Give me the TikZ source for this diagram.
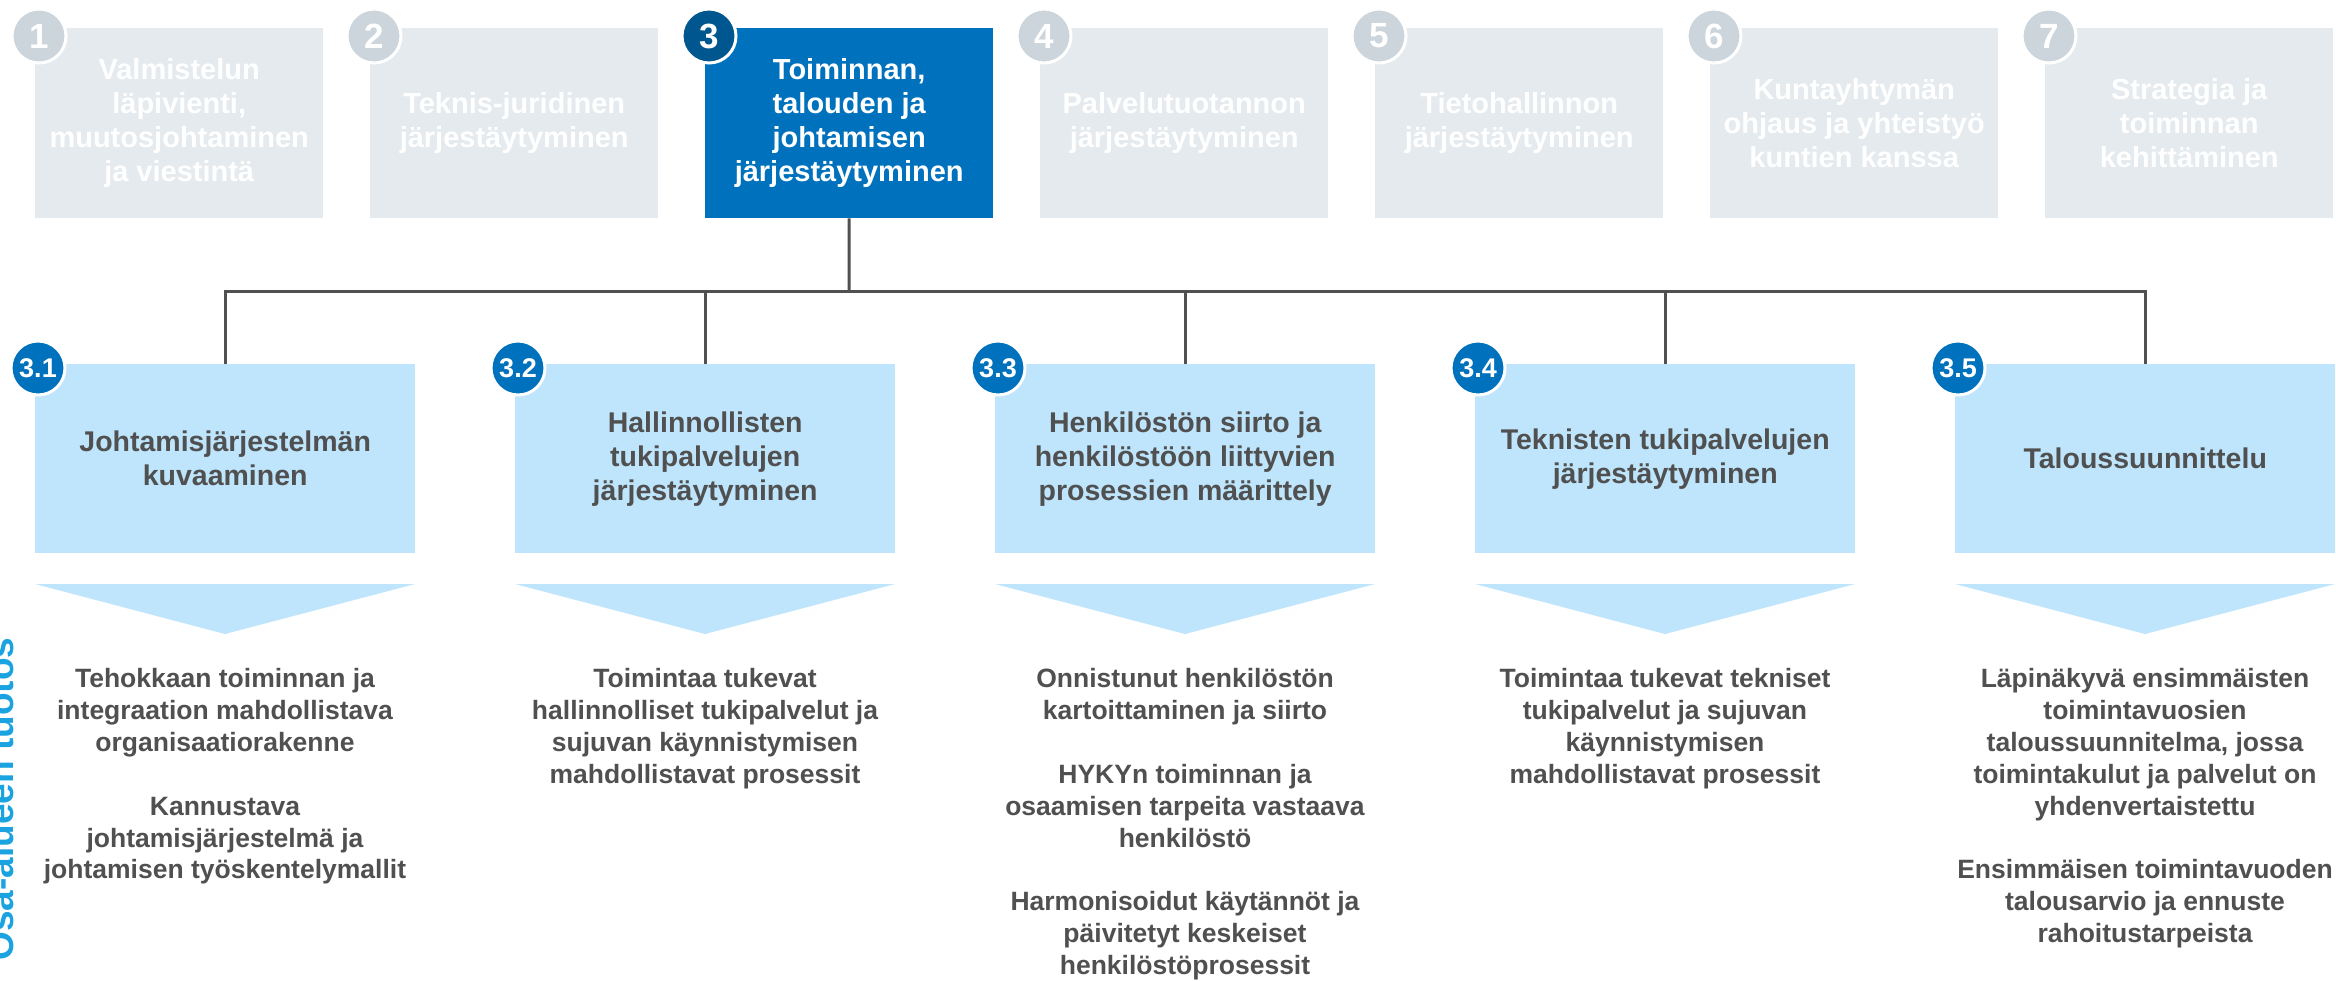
\documentclass[tikz,border=0pt]{standalone}
\usepackage{fontspec}
\setmainfont{Liberation Sans}
\definecolor{graybox}{HTML}{E4EAED}
\definecolor{graycirc}{HTML}{CCD5DB}
\definecolor{bluebox}{HTML}{0071BC}
\definecolor{bluedark}{HTML}{00568E}
\definecolor{bluecirc}{HTML}{0071BC}
\definecolor{lightblue}{HTML}{BEE5FC}
\definecolor{txtgray}{HTML}{505050}
\definecolor{linegray}{HTML}{505050}
\definecolor{accent}{HTML}{1AA3E0}
\begin{document}
\begin{tikzpicture}[x=1pt,y=-1pt,
  topbox/.style={fill=graybox, anchor=north west, minimum width=288pt, minimum height=190pt, inner sep=0pt,
    text=white, font=\fontsize{29}{34}\selectfont\bfseries, align=center},
  activebox/.style={topbox, fill=bluebox},
  numcirc/.style={circle, fill=graycirc, draw=white, line width=3pt, minimum size=54pt, inner sep=0pt,
    text=white, font=\fontsize{35}{40}\selectfont\bfseries},
  activecirc/.style={numcirc, fill=bluedark},
  subbox/.style={fill=lightblue, anchor=north west, minimum width=380pt, minimum height=189pt, inner sep=0pt,
    text=txtgray, font=\fontsize{28.5}{34}\selectfont\bfseries, align=center},
  subcirc/.style={circle, fill=bluecirc, draw=white, line width=3pt, minimum size=54pt, inner sep=0pt,
    text=white, font=\fontsize{27}{30}\selectfont\bfseries},
  outtext/.style={anchor=north, inner sep=0pt, text=txtgray, font=\fontsize{26.5}{31.9}\selectfont\bfseries, align=center},
  conn/.style={draw=linegray, line width=3pt},
  tri/.style={fill=lightblue}
]
\useasboundingbox (0,0) rectangle (2336,980);
\fill[white] (0,0) rectangle (2336,980);

% top row
\node[topbox] (b1) at (35,28) {Valmistelun\\läpivienti,\\muutosjohtaminen\\ja viestintä};
\node[topbox] (b2) at (370,28) {Teknis-juridinen\\järjestäytyminen};
\node[activebox] (b3) at (705,28) {Toiminnan,\\talouden ja\\johtamisen\\järjestäytyminen};
\node[topbox] (b4) at (1040,28) {Palvelutuotannon\\järjestäytyminen};
\node[topbox] (b5) at (1375,28) {Tietohallinnon\\järjestäytyminen};
\node[topbox] (b6) at (1710,28) {Kuntayhtymän\\ohjaus ja yhteistyö\\kuntien kanssa};
\node[topbox] (b7) at (2045,28) {Strategia ja\\toiminnan\\kehittäminen};

\node[numcirc] (c1) at (39,36) {1};
\node[numcirc] (c2) at (374,36) {2};
\node[activecirc] (c3) at (709,36) {3};
\node[numcirc] (c4) at (1044,36) {4};
\node[numcirc] (c5) at (1379,36) {5};
\node[numcirc] (c6) at (1714,36) {6};
\node[numcirc] (c7) at (2049,36) {7};

% sub boxes
\node[subbox] (s1) at (35,364) {Johtamisjärjestelmän\\kuvaaminen};
\node[subbox] (s2) at (515,364) {Hallinnollisten\\tukipalvelujen\\järjestäytyminen};
\node[subbox] (s3) at (995,364) {Henkilöstön siirto ja\\henkilöstöön liittyvien\\prosessien määrittely};
\node[subbox] (s4) at (1475,364) {Teknisten tukipalvelujen\\järjestäytyminen};
\node[subbox] (s5) at (1955,364) {Taloussuunnittelu};

\node[subcirc] (d1) at (38,368) {3.1};
\node[subcirc] (d2) at (518,368) {3.2};
\node[subcirc] (d3) at (998,368) {3.3};
\node[subcirc] (d4) at (1478,368) {3.4};
\node[subcirc] (d5) at (1958,368) {3.5};

% connectors
\coordinate (hub) at (849,291);
\draw[conn] (b3.south) -- (hub);
\draw[conn] (s1.north) |- (hub) -| (s5.north);
\draw[conn] (s2.north) -- (s2.north |- hub);
\draw[conn] (s3.north) -- (s3.north |- hub);
\draw[conn] (s4.north) -- (s4.north |- hub);

% triangles
\foreach \i/\xl in {1/35,2/515,3/995,4/1475,5/1955}{
  \fill[tri] (\xl,584) -- (\xl+380,584) -- (\xl+190,634) -- cycle;
}

% outputs
\node[outtext] (o1) at (225,665) {\strut Tehokkaan toiminnan ja\\integraation mahdollistava\\organisaatiorakenne\\[31.9pt]Kannustava\\johtamisjärjestelmä ja\\johtamisen työskentelymallit};
\node[outtext] (o2) at (705,665) {\strut Toimintaa tukevat\\hallinnolliset tukipalvelut ja\\sujuvan käynnistymisen\\mahdollistavat prosessit};
\node[outtext] (o3) at (1185,665) {\strut Onnistunut henkilöstön\\kartoittaminen ja siirto\\[31.9pt]HYKYn toiminnan ja\\osaamisen tarpeita vastaava\\henkilöstö\\[31.9pt]Harmonisoidut käytännöt ja\\päivitetyt keskeiset\\henkilöstöprosessit};
\node[outtext] (o4) at (1665,665) {\strut Toimintaa tukevat tekniset\\tukipalvelut ja sujuvan\\käynnistymisen\\mahdollistavat prosessit};
\node[outtext] (o5) at (2145,665) {\strut Läpinäkyvä ensimmäisten\\toimintavuosien\\taloussuunnitelma, jossa\\toimintakulut ja palvelut on\\yhdenvertaistettu\\[31.9pt]Ensimmäisen toimintavuoden\\talousarvio ja ennuste\\rahoitustarpeista};

% side label
\node[rotate=90, anchor=base, inner sep=0pt, text=accent, font=\fontsize{37}{40}\selectfont\bfseries] (side) at (13,799) {Osa-alueen tuotos};
\end{tikzpicture}
\end{document}
